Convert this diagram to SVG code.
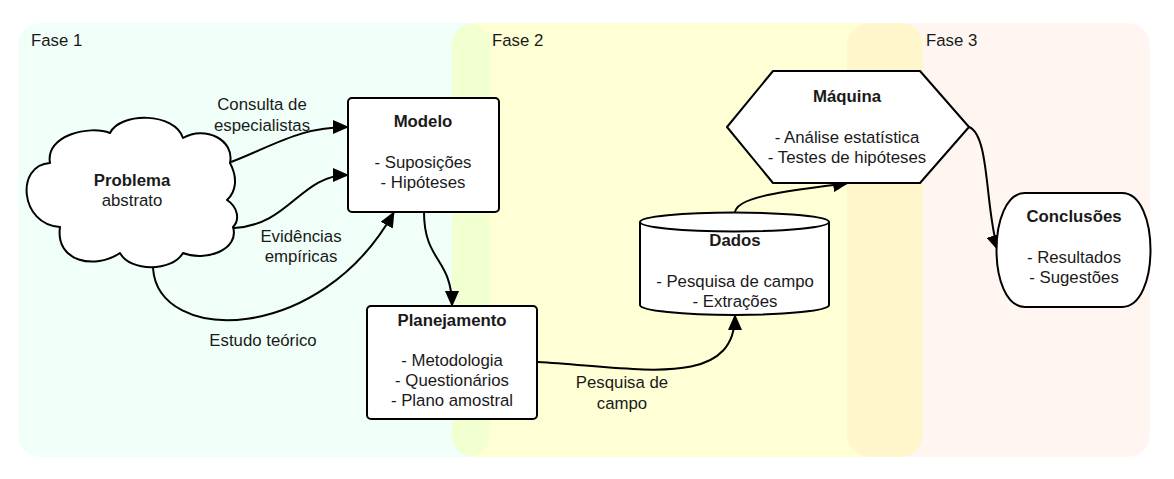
<svg xmlns="http://www.w3.org/2000/svg" width="1174" height="479" viewBox="0 0 1174 479">
<style>
text{font-family:"Liberation Sans",Arial,sans-serif;font-size:16.8px;fill:#1a1a1a}
.b{font-weight:bold}
.m{text-anchor:middle}
.node{fill:#fff;stroke:#000;stroke-width:2;stroke-linejoin:round}
.edge{fill:none;stroke:#000;stroke-width:2;marker-end:url(#arr)}
</style>
<defs>
<marker id="arr" markerUnits="userSpaceOnUse" markerWidth="16" markerHeight="14" viewBox="0 0 16 14" refX="15" refY="7" orient="auto">
<path d="M0,0 L16,7 L0,14 Z" fill="#000"/>
</marker>
</defs>
<rect width="1174" height="479" fill="#fff"/>
<g id="fase1">
<rect x="18" y="23" width="472" height="434" rx="22" fill="#00ff80" fill-opacity="0.06"/>
<text x="31" y="46">Fase 1</text>
</g>
<g id="fase2">
<rect x="452" y="23" width="471" height="434" rx="22" fill="#ffff00" fill-opacity="0.16"/>
<text x="492" y="46">Fase 2</text>
</g>
<g id="fase3">
<rect x="847" y="23" width="303" height="434" rx="22" fill="#ffaa77" fill-opacity="0.1"/>
<text x="926" y="46">Fase 3</text>
</g>
<g id="connectors">
<path class="edge" d="M231,162 C275,145 300,127 348,127"/>
<path class="edge" d="M234,228 C290,225 300,175 348,175"/>
<path class="edge" d="M153,268 C158,345 320,345 394,212"/>
<path class="edge" d="M424,212 C424,262 452,258 452,306"/>
<path class="edge" d="M538,362 C640,368 735,390 735,315"/>
<path class="edge" d="M735,213 C735,195 800,190 848,183"/>
<path class="edge" d="M969,127 C990,135 985,210 998,250"/>
<text class="m" x="262" y="110">Consulta de</text>
<text class="m" x="262" y="131">especialistas</text>
<text class="m" x="301" y="242">Evidências</text>
<text class="m" x="301" y="262">empíricas</text>
<text class="m" x="263" y="346">Estudo teórico</text>
<text class="m" x="622" y="388">Pesquisa de</text>
<text class="m" x="622" y="409">campo</text>
</g>
<g id="problema">
<path class="node" d="M60,227 C20,225 15,165 50,163 C45,135 90,125 110,133 C120,112 175,112 183,138 C205,125 235,140 230,163 C238,178 236,192 227,200 C238,207 240,220 233,227 C240,250 205,262 183,253 C172,272 130,272 120,253 C95,270 55,262 60,227 Z"/>
<text class="m b" x="132" y="186">Problema</text>
<text class="m" x="132" y="206">abstrato</text>
</g>
<g id="modelo">
<rect class="node" x="348" y="98" width="151" height="114" rx="4"/>
<text class="m b" x="423" y="127">Modelo</text>
<text class="m" x="423" y="168">- Suposições</text>
<text class="m" x="423" y="188">- Hipóteses</text>
</g>
<g id="planejamento">
<rect class="node" x="367" y="306" width="170" height="113" rx="4"/>
<text class="m b" x="452" y="326">Planejamento</text>
<text class="m" x="452" y="366">- Metodologia</text>
<text class="m" x="452" y="386">- Questionários</text>
<text class="m" x="452" y="406">- Plano amostral</text>
</g>
<g id="dados">
<path class="node" d="M640,222 A94.5,9.5 0 0,1 829,222 L829,305 A94.5,10 0 0,1 640,305 Z"/>
<path class="node" d="M640,222 A94.5,9.5 0 0,0 829,222" fill="none"/>
<text class="m b" x="735" y="246">Dados</text>
<text class="m" x="735" y="287">- Pesquisa de campo</text>
<text class="m" x="735" y="307">- Extrações</text>
</g>
<g id="maquina">
<path class="node" d="M727,127 L773,71 L920,71 L969,127 L920,183 L773,183 Z"/>
<text class="m b" x="847" y="102">Máquina</text>
<text class="m" x="847" y="143">- Análise estatística</text>
<text class="m" x="847" y="163">- Testes de hipóteses</text>
</g>
<g id="conclusoes">
<path class="node" d="M1025,193 L1122,193 C1160,193 1160,307 1122,307 L1025,307 C987,307 987,193 1025,193 Z"/>
<text class="m b" x="1074" y="222">Conclusões</text>
<text class="m" x="1074" y="263">- Resultados</text>
<text class="m" x="1074" y="283">- Sugestões</text>
</g>
</svg>
